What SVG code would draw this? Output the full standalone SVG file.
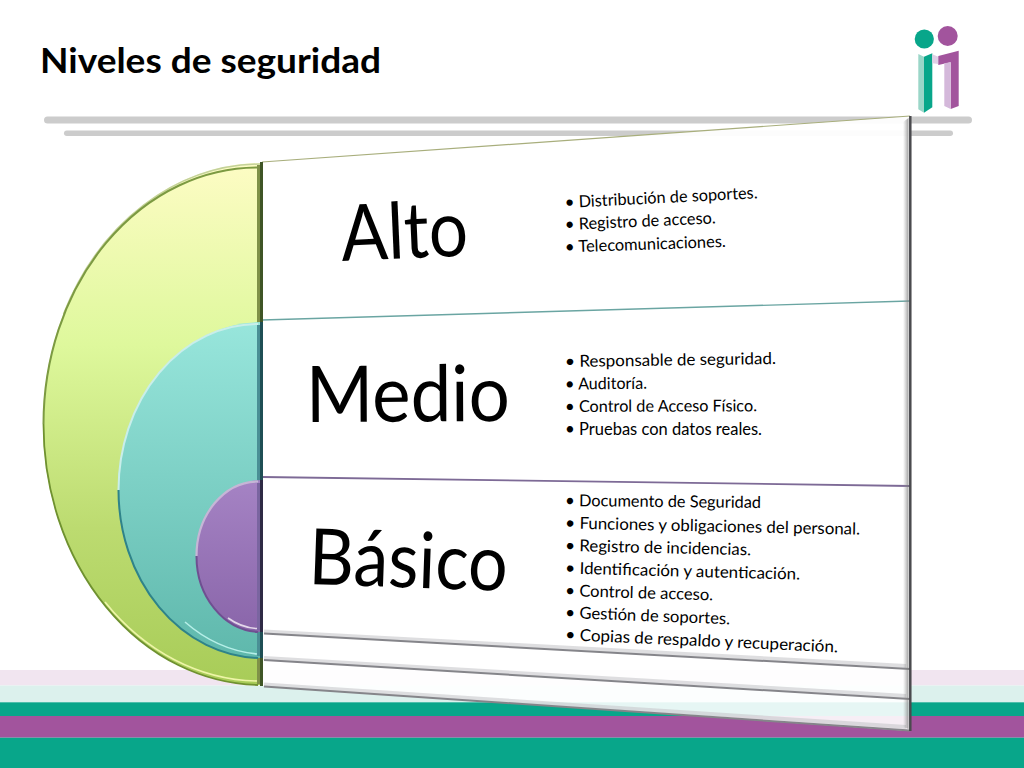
<svg xmlns="http://www.w3.org/2000/svg" width="1024" height="768" viewBox="0 0 1024 768">
<defs>
<linearGradient id="gGreen" x1="0" y1="0" x2="0" y2="1"><stop offset="0" stop-color="#fdfcc4"/><stop offset=".35" stop-color="#def89c"/><stop offset=".7" stop-color="#bcdb70"/><stop offset="1" stop-color="#a8cc58"/></linearGradient>
<linearGradient id="gTeal" x1="0" y1="0" x2="0" y2="1"><stop offset="0" stop-color="#98e6dc"/><stop offset="1" stop-color="#5fb8ac"/></linearGradient>
<linearGradient id="gPurple" x1="0" y1="0" x2="0" y2="1"><stop offset="0" stop-color="#a583c4"/><stop offset="1" stop-color="#8a66aa"/></linearGradient>
<linearGradient id="gEdge" x1="0" y1="0" x2="1" y2="0"><stop offset="0" stop-color="#999" stop-opacity="0"/><stop offset="1" stop-color="#777" stop-opacity=".7"/></linearGradient>
</defs>
<style>
text{font-family:Lato,"Open Sans","Liberation Sans",sans-serif;fill:#000}
.big{font-size:78px}
.li{font-size:16.500px}
.bu{font-size:17px}
.arc{fill:none}
.sh{fill:none;stroke:#c8c8cc;stroke-width:4;opacity:.6}
.ln{fill:none;stroke:#85858a;stroke-width:2}
</style>
<rect width="1024" height="768" fill="#fff"/>
<g id="bands">
<rect y="670" width="1024" height="15.500" fill="#f1e5f0"/>
<rect y="685.500" width="1024" height="16.800" fill="#dcf1ed"/>
<rect y="702.300" width="1024" height="13.700" fill="#08a68a"/>
<rect y="716" width="1024" height="21.700" fill="#a2549d"/>
<rect y="737.700" width="1024" height="30.300" fill="#08a68a"/>
</g>
<g id="title">
<text x="40" y="73" font-size="35" font-weight="700" textLength="341" lengthAdjust="spacingAndGlyphs">Niveles de seguridad</text>
<rect x="44" y="116.500" width="928" height="7" rx="3.500" fill="#cccccc"/>
<rect x="64" y="130.500" width="889" height="5.500" rx="2.700" fill="#cccccc"/>
</g>
<g id="logo">
<circle cx="924.300" cy="39" r="9.600" fill="#08a68a"/>
<circle cx="947.700" cy="36" r="10" fill="#a2549d"/>
<polygon points="918.300,54 924,56.700 924,112.700 918.300,109.300" fill="#9bd6c8"/>
<polygon points="924,56.700 932.300,53.300 932.300,107.300 924,112.700" fill="#08a68a"/>
<polygon points="932.300,54.300 938.300,56.700 938.300,64 932.300,63.300" fill="#e0cfe6"/>
<polygon points="938.300,56 958.700,50.700 958.700,106 950.700,109 950.700,62.300 938.300,65" fill="#a2549d"/>
<polygon points="944.300,63.300 950.700,62.300 950.700,109 944.300,106" fill="#d4b8da"/>
</g>
<g id="node-alto">
<path d="M262 162 L910 116 L910 301 L262 320 Z" fill="#fff" fill-opacity=".93"/>
<path d="M262 162 L910 116" fill="none" stroke="#a8ae7c" stroke-width="1.200"/>
<text class="big" transform="translate(342 261) rotate(-2.500)" textLength="127" lengthAdjust="spacingAndGlyphs">Alto</text>
<text class="li" transform="translate(565 208) rotate(-2.900)" textLength="193" lengthAdjust="spacingAndGlyphs"><tspan class="bu">•</tspan> Distribución de soportes.</text>
<text class="li" transform="translate(565 230) rotate(-2.500)" textLength="151" lengthAdjust="spacingAndGlyphs"><tspan class="bu">•</tspan> Registro de acceso.</text>
<text class="li" transform="translate(565 252.500) rotate(-2)" textLength="161" lengthAdjust="spacingAndGlyphs"><tspan class="bu">•</tspan> Telecomunicaciones.</text>
</g>
<g id="node-medio">
<path d="M262 320 L910 301 L910 486 L262 477 Z" fill="#fff"/>
<path d="M262 320 L910 301" fill="none" stroke="#6aa5a2" stroke-width="1.400"/>
<text class="big" transform="translate(306 422) rotate(-.3)" textLength="204" lengthAdjust="spacingAndGlyphs">Medio</text>
<text class="li" transform="translate(565 367) rotate(-.8)" textLength="211" lengthAdjust="spacingAndGlyphs"><tspan class="bu">•</tspan>  Responsable de seguridad.</text>
<text class="li" transform="translate(565 389.500) rotate(-.5)" textLength="82" lengthAdjust="spacingAndGlyphs"><tspan class="bu">•</tspan> Auditoría.</text>
<text class="li" transform="translate(565 412) rotate(-.2)" textLength="192" lengthAdjust="spacingAndGlyphs"><tspan class="bu">•</tspan> Control de Acceso Físico.</text>
<text class="li" transform="translate(565 435)" textLength="197" lengthAdjust="spacingAndGlyphs"><tspan class="bu">•</tspan> Pruebas con datos reales.</text>
</g>
<g id="node-basico">
<path d="M262 477 L910 486 L910 731 L262 686 Z" fill="#fff" fill-opacity=".9"/>
<path d="M262 477 L910 486" fill="none" stroke="#7d6a96" stroke-width="1.800"/>
<text class="big" transform="translate(308 584) rotate(2)" textLength="199" lengthAdjust="spacingAndGlyphs">Básico</text>
<text class="li" transform="translate(565 506) rotate(.6)" textLength="196" lengthAdjust="spacingAndGlyphs"><tspan class="bu">•</tspan> Documento de Seguridad</text>
<text class="li" transform="translate(565 528.500) rotate(1.200)" textLength="295" lengthAdjust="spacingAndGlyphs"><tspan class="bu">•</tspan> Funciones y obligaciones del personal.</text>
<text class="li" transform="translate(565 551) rotate(1.300)" textLength="186" lengthAdjust="spacingAndGlyphs"><tspan class="bu">•</tspan>  Registro de incidencias.</text>
<text class="li" transform="translate(565 573.500) rotate(1.500)" textLength="235" lengthAdjust="spacingAndGlyphs"><tspan class="bu">•</tspan>  Identificación y autenticación.</text>
<text class="li" transform="translate(565 596) rotate(1.700)" textLength="148" lengthAdjust="spacingAndGlyphs"><tspan class="bu">•</tspan>  Control de acceso.</text>
<text class="li" transform="translate(565 618) rotate(2.200)" textLength="165" lengthAdjust="spacingAndGlyphs"><tspan class="bu">•</tspan>  Gestión de soportes.</text>
<text class="li" transform="translate(565 640) rotate(2.600)" textLength="273" lengthAdjust="spacingAndGlyphs"><tspan class="bu">•</tspan>  Copias de respaldo y recuperación.</text>
<path class="sh" d="M264 631.500 L906 666"/><path class="ln" d="M264 633.500 L910 669"/>
<path class="sh" d="M264 658 L906 696"/><path class="ln" d="M264 660 L910 699"/>
<path class="sh" d="M264 684.500 L906 727"/><path class="ln" d="M264 686.500 L910 730.500"/>
</g>
<g id="right-edge">
<path d="M903 122 L908.500 118 L908.500 729 L903 727 Z" fill="url(#gEdge)"/>
<path d="M910.300 116 L910.300 731" stroke="#4a4a4e" stroke-width="2.500" fill="none"/>
</g>
<g id="semi-green">
<path d="M262 163 A219 261 0 0 0 262 685 Z" fill="url(#gGreen)"/>
<path class="arc" d="M260 164 A219 261 0 0 0 63.500 314" stroke="#c3d19a" stroke-width="1.500"/>
<path class="arc" d="M258 167.500 A214.500 256.500 0 0 0 43.500 424" stroke="#7c9a42" stroke-width="2"/>
<path class="arc" d="M43.500 424 A218.500 261 0 0 0 258 685" stroke="#6f9130" stroke-width="1.800"/>
<path class="arc" d="M105 602 A215 257 0 0 0 257 681" stroke="#eef5a8" stroke-width="1.600"/>
<path d="M258.500 165 L258.500 684" stroke="#7f9148" stroke-width="3" fill="none"/>
<path d="M261.500 162 L261.500 686" stroke="#3f5526" stroke-width="3" fill="none"/>
</g>
<g id="semi-teal">
<path d="M262 322 A144 168 0 0 0 262 658 Z" fill="url(#gTeal)"/>
<path class="arc" d="M258 324 A139.500 166 0 0 0 118.500 490" stroke="#c9eeea" stroke-width="2"/>
<path class="arc" d="M118.500 490 A143.500 168 0 0 0 258 658" stroke="#2f8389" stroke-width="2"/>
<path class="arc" d="M185 622 A140 164 0 0 0 257 654" stroke="#b6efe8" stroke-width="1.600"/>
<path d="M258.500 325 L258.500 656" stroke="#4a8f95" stroke-width="3" fill="none"/>
<path d="M261.500 322 L261.500 658" stroke="#1f4f55" stroke-width="3" fill="none"/>
</g>
<g id="semi-purple">
<path d="M262 480 A66 76 0 0 0 262 632 Z" fill="url(#gPurple)"/>
<path class="arc" d="M258 481.500 A61.500 74.500 0 0 0 196.500 556" stroke="#c6b6d6" stroke-width="2.200"/>
<path class="arc" d="M196.500 556 A65 76 0 0 0 258 632" stroke="#6f4f91" stroke-width="2"/>
<path class="arc" d="M228 618 A60 72 0 0 0 257 628.500" stroke="#e4d8ea" stroke-width="1.600"/>
<path d="M258.500 483 L258.500 630" stroke="#7a65a0" stroke-width="3" fill="none"/>
<path d="M261.500 480 L261.500 632" stroke="#2f2a45" stroke-width="3" fill="none"/>
</g>
</svg>
